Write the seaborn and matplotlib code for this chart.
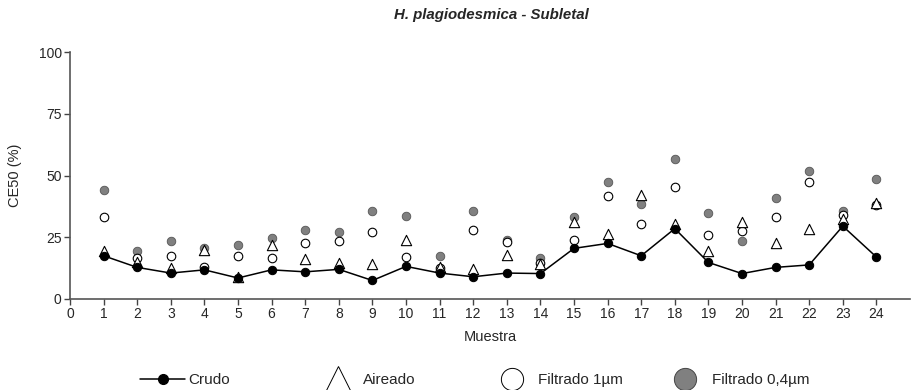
import numpy as np
import pandas as pd
import matplotlib
matplotlib.use("Agg")
import matplotlib.pyplot as plt
from matplotlib.lines import Line2D
import seaborn as sns

muestra = list(range(1, 25))
crudo = [17.5, 12.8, 10.5, 11.8, 8.5, 11.8, 11.0, 12.0, 7.5, 13.2, 10.5, 9.0,
         10.5, 10.3, 20.5, 22.5, 17.5, 28.5, 14.8, 10.3, 12.8, 13.8, 29.5, 17.0]
aireado = [19.5, 15.0, 12.5, 20.0, 9.0, 22.0, 16.0, 14.5, 14.0, 24.0, 13.0, 12.0,
           18.0, 14.0, 31.0, 26.5, 42.0, 30.5, 19.5, 31.0, 22.5, 28.5, 32.5, 39.0]
filtrado_1 = [33.0, 16.5, 17.5, 13.0, 17.5, 16.5, 22.5, 23.5, 27.0, 17.0, 12.5, 28.0,
              23.0, 14.5, 24.0, 41.5, 30.5, 45.5, 26.0, 27.5, 33.0, 47.5, 34.0, 38.0]
filtrado_04 = [44.0, 19.5, 23.5, 20.5, 22.0, 24.5, 28.0, 27.0, 35.5, 33.5, 17.5, 35.5,
               24.0, 16.5, 33.0, 47.5, 38.5, 56.5, 35.0, 23.5, 41.0, 52.0, 35.5, 48.5]
series_names = ["Crudo", "Aireado", "Filtrado 1µm", "Filtrado 0,4µm"]
x_ticks = list(range(0, 25))
y_ticks = [0, 25, 50, 75, 100]

df = pd.DataFrame({"Muestra": muestra, "Crudo": crudo, "Aireado": aireado,
                   "F1": filtrado_1, "F04": filtrado_04})

sns.set_style("ticks")
plt.rcParams["font.family"] = ["Liberation Sans", "DejaVu Sans"]

W, H = 914, 390
fig = plt.figure(figsize=(W/100, H/100), dpi=100)
ax = fig.add_axes([70/W, 1-299/H, (910-70)/W, (299-52)/H])

gray = "#808080"
sns.scatterplot(data=df, x="Muestra", y="F04", ax=ax, marker="o", s=38,
                color=gray, edgecolor="#555555", linewidth=0.6, zorder=2, legend=False)
sns.scatterplot(data=df, x="Muestra", y="F1", ax=ax, marker="o", s=38,
                facecolor="white", edgecolor="black", linewidth=0.8, zorder=3, legend=False)
sns.scatterplot(data=df, x="Muestra", y="Aireado", ax=ax, marker="^", s=55,
                facecolor="white", edgecolor="black", linewidth=0.8, zorder=4, legend=False)
sns.lineplot(data=df, x="Muestra", y="Crudo", ax=ax, color="black", lw=1.1,
             marker="o", markersize=6, markeredgecolor="black", zorder=5)

ax.set_xlim(0, 25)
ax.set_ylim(0, 100)
ax.set_xticks(x_ticks)
ax.set_yticks(y_ticks)
ax.tick_params(labelsize=10, length=4, width=1, color="#444444", direction="out", pad=2)
for s in ["left", "bottom"]:
    ax.spines[s].set_color("#555555")
    ax.spines[s].set_linewidth(1.2)
sns.despine(ax=ax)
ax.set_xlabel("Muestra", fontsize=10.5, labelpad=6)
ax.set_ylabel("CE50 (%)", fontsize=10.5, labelpad=12)

fig.text(491/W, 1-15/H, "H. plagiodesmica - Subletal", ha="center", va="center",
         fontsize=10.8, fontweight="bold", fontstyle="italic")

fs = 11
pxem = fs * 100 / 72
ly = 1 - 380/H
crudo_h = Line2D([], [], color="black", lw=1.1, marker="o", markersize=7)
fig.legend([crudo_h], [series_names[0]], loc="center left",
           bbox_to_anchor=(140/W, ly), frameon=False, fontsize=fs,
           borderpad=0, borderaxespad=0, handlelength=45/pxem, handletextpad=3/pxem)
others = [
    (Line2D([], [], color="none", marker="^", markersize=19, markerfacecolor="white",
            markeredgecolor="black", markeredgewidth=0.7), series_names[1], 338, 363),
    (Line2D([], [], color="none", marker="o", markersize=16, markerfacecolor="white",
            markeredgecolor="black", markeredgewidth=0.7), series_names[2], 512, 538),
    (Line2D([], [], color="none", marker="o", markersize=16, markerfacecolor=gray,
            markeredgecolor="#444444", markeredgewidth=0.7), series_names[3], 685, 712),
]
hl = 2.0
for h, lab, cx, tx in others:
    left = cx - hl * pxem / 2
    fig.legend([h], [lab], loc="center left", bbox_to_anchor=(left/W, ly),
               frameon=False, fontsize=fs, borderpad=0, borderaxespad=0,
               handlelength=hl, handletextpad=(tx - (left + hl*pxem))/pxem)

fig.savefig("out.png", dpi=100)
